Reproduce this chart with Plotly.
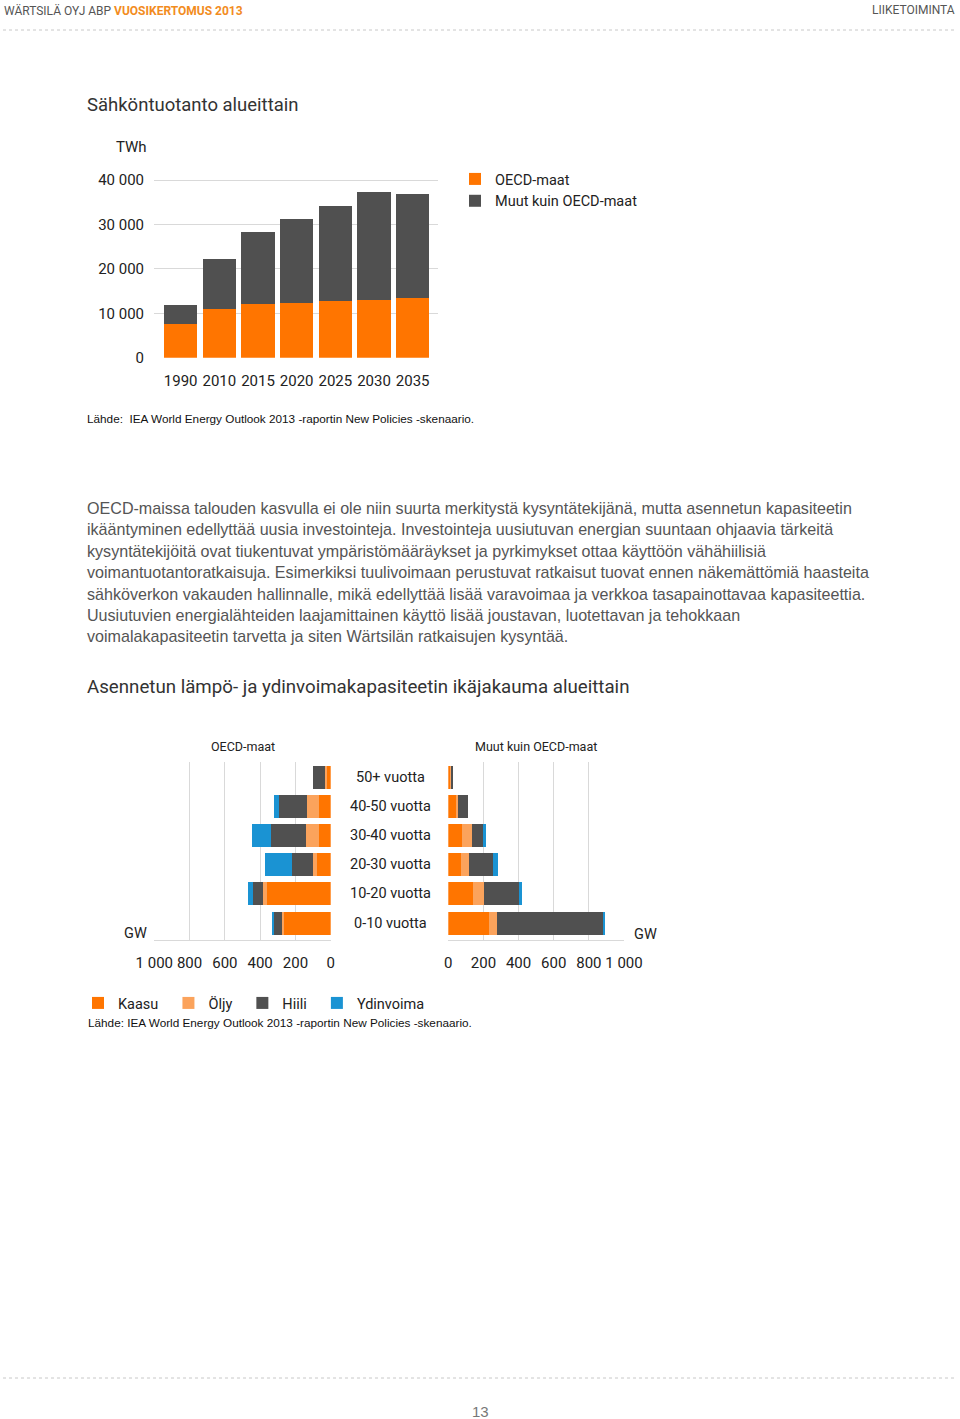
import plotly.graph_objects as go

W, H = 960, 1419
def X(px): return px / W
def Y(py): return 1 - py / H

COND = "Roboto, Liberation Sans, Arial, sans-serif"
SANS = "Liberation Sans, Arial, Helvetica, sans-serif"

ORANGE = "#FF7500"
LIGHT = "#FBA35C"
GREY = "#505050"
BLUE = "#1A93D3"
GRID = "#d9d9d9"

# ---------------- data: chart 1 ----------------
years = ["1990", "2010", "2015", "2020", "2025", "2030", "2035"]
oecd_twh = [7700, 10900, 12000, 12400, 12800, 13100, 13400]
non_oecd_twh = [4100, 11300, 16200, 18900, 21400, 24200, 23400]
y1_ticks = [0, 10000, 20000, 30000, 40000]
y1_labels = ["0", "10 000", "20 000", "30 000", "40 000"]

# ---------------- data: chart 2 ----------------
age_groups = ["50+ vuotta", "40-50 vuotta", "30-40 vuotta", "20-30 vuotta", "10-20 vuotta", "0-10 vuotta"]
oecd_kaasu = [20, 65, 65, 76, 363, 268]
oecd_oljy = [12, 68, 76, 26, 19, 6]
oecd_hiili = [70, 160, 195, 115, 57, 51]
oecd_ydin = [0, 27, 113, 155, 28, 6]
non_kaasu = [15, 44, 76, 72, 142, 232]
non_oljy = [5, 12, 57, 47, 61, 47]
non_hiili = [9, 54, 63, 137, 205, 600]
non_ydin = [0, 0, 17, 28, 9, 15]
gw_ticks = [0, 200, 400, 600, 800, 1000]
gw_labels = ["0", "200", "400", "600", "800", "1 000"]
fuel_names = ["Kaasu", "Öljy", "Hiili", "Ydinvoima"]
fuel_colors = [ORANGE, LIGHT, GREY, BLUE]

fig = go.Figure()

# chart 1 bars
fig.add_trace(go.Bar(x=years, y=oecd_twh, name="OECD-maat", marker=dict(color=ORANGE, line=dict(width=0)),
                     width=0.862, xaxis="x", yaxis="y", legend="legend"))
fig.add_trace(go.Bar(x=years, y=non_oecd_twh, name="Muut kuin OECD-maat", marker=dict(color=GREY, line=dict(width=0)),
                     width=0.862, xaxis="x", yaxis="y", legend="legend"))

# chart 2 bars
oecd_series = [oecd_kaasu, oecd_oljy, oecd_hiili, oecd_ydin]
non_series = [non_kaasu, non_oljy, non_hiili, non_ydin]
for name, col, vals in zip(fuel_names, fuel_colors, oecd_series):
    fig.add_trace(go.Bar(y=age_groups, x=vals, orientation="h", name=name + "\u00a0\u200a",
                         marker=dict(color=col, line=dict(width=0)), width=0.79,
                         xaxis="x2", yaxis="y2", legend="legend2", showlegend=True))
for name, col, vals in zip(fuel_names, fuel_colors, non_series):
    fig.add_trace(go.Bar(y=age_groups, x=vals, orientation="h", name=name,
                         marker=dict(color=col, line=dict(width=0)), width=0.79,
                         xaxis="x3", yaxis="y3", legend="legend2", showlegend=False))

tickfont = dict(family=COND, size=15, color="#222")
cat_bottom_up = list(reversed(age_groups))

fig.update_layout(
    width=W, height=H, margin=dict(l=0, r=0, t=0, b=0, autoexpand=False),
    paper_bgcolor="white", plot_bgcolor="white",
    barmode="stack",
    xaxis=dict(domain=[X(154), X(438)], anchor="y", type="category", range=[-0.69, 6.655],
               showgrid=False, zeroline=False, showline=False, tickfont=tickfont, tickangle=0,
               automargin=False, ticklabelstandoff=12),
    yaxis=dict(domain=[Y(357.7), Y(177.8)], anchor="x", range=[0, 40500], automargin=False,
               tickvals=y1_ticks, ticktext=y1_labels, showgrid=True, gridcolor=GRID, gridwidth=1,
               zeroline=False, showline=False, tickfont=tickfont, ticklabelstandoff=9),
    xaxis2=dict(domain=[X(154.3), X(330.7)], anchor="y2", range=[1000, 0], automargin=False, tickangle=0,
                tickvals=gw_ticks, ticktext=gw_labels, showgrid=True, gridcolor=GRID,
                zeroline=False, showline=True, linecolor=GRID, tickfont=tickfont, ticklabelstandoff=9),
    yaxis2=dict(domain=[Y(940), Y(762)], anchor="x2", type="category", automargin=False,
                categoryorder="array", categoryarray=cat_bottom_up, range=[-0.58, 5.53],
                showticklabels=False, showgrid=False, zeroline=False, showline=False),
    xaxis3=dict(domain=[X(448.3), X(624)], anchor="y3", range=[0, 1000], automargin=False, tickangle=0,
                tickvals=gw_ticks, ticktext=gw_labels, showgrid=True, gridcolor=GRID,
                zeroline=False, showline=True, linecolor=GRID, tickfont=tickfont, ticklabelstandoff=9),
    yaxis3=dict(domain=[Y(940), Y(762)], anchor="x3", type="category", automargin=False,
                categoryorder="array", categoryarray=cat_bottom_up, range=[-0.58, 5.53],
                showticklabels=False, showgrid=False, zeroline=False, showline=False),
    legend=dict(x=X(455), y=Y(163), xanchor="left", yanchor="top", orientation="v",
                traceorder="normal", font=dict(family=COND, size=14.5, color="#222"),
                bgcolor="rgba(0,0,0,0)", borderwidth=0, tracegroupgap=0),
    legend2=dict(x=X(78), y=Y(1003), xanchor="left", yanchor="middle", orientation="h",
                 traceorder="normal", font=dict(family=COND, size=14.5, color="#222"),
                 bgcolor="rgba(0,0,0,0)", borderwidth=0),
)

ann = []
def add_text(text, px, py, size, color="#222", family=COND, xanchor="left", **kw):
    ann.append(dict(text=text, x=X(px), y=Y(py), xref="paper", yref="paper", showarrow=False,
                    xanchor=xanchor, yanchor="middle", font=dict(family=family, size=size, color=color), **kw))

# header / footer
add_text("WÄRTSILÄ OYJ ABP <b><span style='color:#F28C1E'>VUOSIKERTOMUS 2013</span></b>", 2, 10, 12, color="#555")
add_text("LIIKETOIMINTA", 957, 10, 12, color="#555", xanchor="right")
add_text("13", 480, 1411, 15, color="#777", family=SANS, xanchor="center")

# chart 1 texts
add_text("Sähköntuotanto alueittain", 85, 105, 18.5, color="#333")
add_text("TWh", 131, 147, 15, xanchor="center")
add_text("Lähde:  IEA World Energy Outlook 2013 -raportin New Policies -skenaario.", 85, 419, 11.75,
         family=SANS, color="#111")

# paragraph
para = [
    "OECD-maissa talouden kasvulla ei ole niin suurta merkitystä kysyntätekijänä, mutta asennetun kapasiteetin",
    "ikääntyminen edellyttää uusia investointeja. Investointeja uusiutuvan energian suuntaan ohjaavia tärkeitä",
    "kysyntätekijöitä ovat tiukentuvat ympäristömääräykset ja pyrkimykset ottaa käyttöön vähähiilisiä",
    "voimantuotantoratkaisuja. Esimerkiksi tuulivoimaan perustuvat ratkaisut tuovat ennen näkemättömiä haasteita",
    "sähköverkon vakauden hallinnalle, mikä edellyttää lisää varavoimaa ja verkkoa tasapainottavaa kapasiteettia.",
    "Uusiutuvien energialähteiden laajamittainen käyttö lisää joustavan, luotettavan ja tehokkaan",
    "voimalakapasiteetin tarvetta ja siten Wärtsilän ratkaisujen kysyntää.",
]
for i, line in enumerate(para):
    add_text(line, 85, 508 + i * 21.4, 16.1, color="#555", family=SANS)

# chart 2 texts
add_text("Asennetun lämpö- ja ydinvoimakapasiteetin ikäjakauma alueittain", 85, 687, 18.7, color="#333")
add_text("OECD-maat", 242.5, 746, 12.5, xanchor="center")
add_text("Muut kuin OECD-maat", 536, 746, 12.5, xanchor="center")
add_text("GW", 135, 933, 14.5, xanchor="center")
add_text("GW", 645, 934, 14.5, xanchor="center")
for g in age_groups:
    ann.append(dict(text=g, x=X(390), y=g, xref="paper", yref="y3", showarrow=False,
                    xanchor="center", yanchor="middle", font=dict(family=COND, size=14.5, color="#222")))
add_text("Lähde: IEA World Energy Outlook 2013 -raportin New Policies -skenaario.", 86, 1023, 11.75,
         family=SANS, color="#111")

fig.update_layout(annotations=ann)

# dotted separator lines
for py in (30, 1378):
    fig.add_shape(type="line", xref="paper", yref="paper", x0=X(3), x1=X(957), y0=Y(py), y1=Y(py),
                  line=dict(color="#c8c8c8", width=1, dash="dot"))

fig.write_html("out.html", config={"displayModeBar": False},
               post_script="document.body.style.margin='0';document.body.style.overflow='hidden';")
